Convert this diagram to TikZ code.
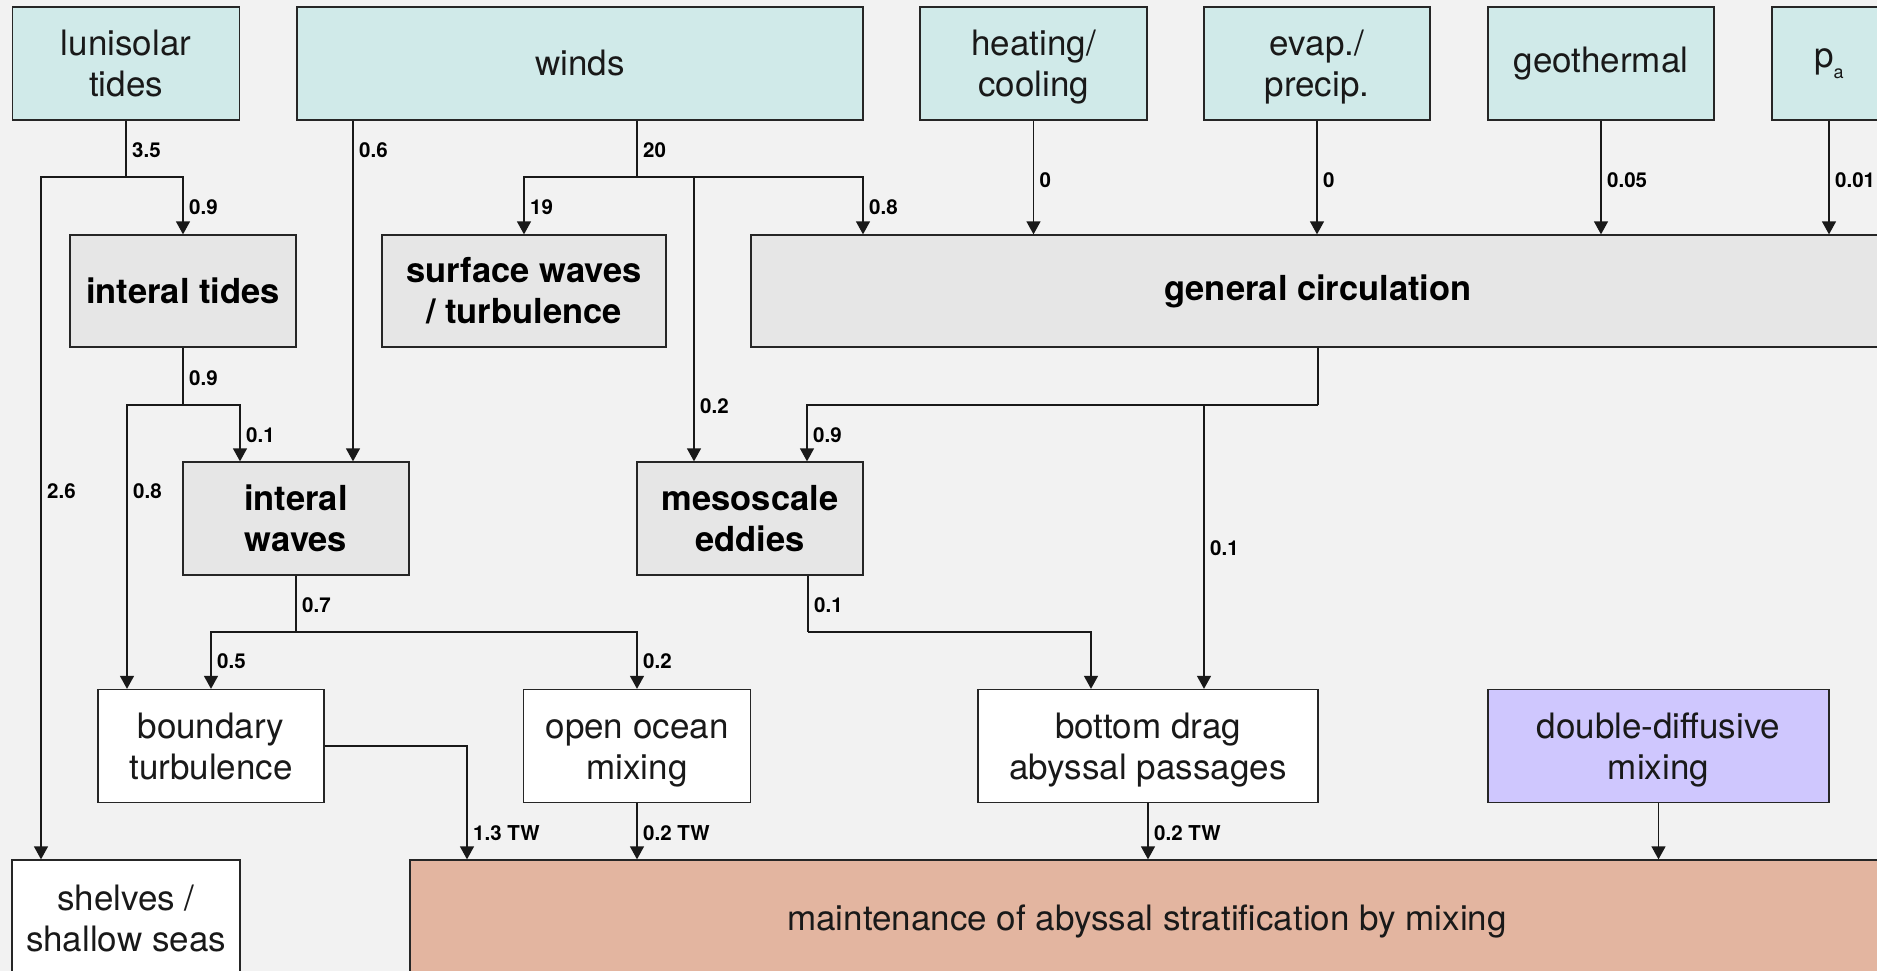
\documentclass[tikz,border=0pt]{standalone}
\usepackage{fontspec}
\setmainfont{TeX Gyre Heros}
\usetikzlibrary{arrows.meta}
\definecolor{bgc}{HTML}{F2F2F2}
\definecolor{srcc}{HTML}{D0EAE9}
\definecolor{procc}{HTML}{E6E6E6}
\definecolor{ddc}{HTML}{CFC7FE}
\definecolor{mainc}{HTML}{E3B5A0}
\begin{document}
\begin{tikzpicture}[x=1pt,y=-1pt,
  box/.style={draw=black!85, line width=1.3pt, inner sep=0pt, align=center,
    font=\fontsize{35}{41}\selectfont, text=black!90},
  src/.style={box, fill=srcc},
  proc/.style={box, fill=procc, font=\fontsize{34.5}{41}\selectfont\bfseries, text=black},
  sink/.style={box, fill=white},
  lab/.style={anchor=west, font=\fontsize{20.5}{20.5}\selectfont\bfseries, inner sep=0pt, xshift=6pt},
  arr/.style={-{Triangle[width=14pt,length=13pt]}, line width=1.3pt, draw=black!90},
  ln/.style={line width=1.3pt, draw=black!90}]
\useasboundingbox (0,0) rectangle (1877,971);
\fill[bgc] (0,0) rectangle (1877,971);
\clip (0,0) rectangle (1877,971);

% sources
\node[src, minimum width=227pt, minimum height=113pt] (luni) at (126,63.5) {lunisolar\\tides};
\node[src, minimum width=566pt, minimum height=113pt] (winds) at (580,63.5) {winds};
\node[src, minimum width=227pt, minimum height=113pt] (heat) at (1033.5,63.5) {heating/\\\smash{cooling}};
\node[src, minimum width=226pt, minimum height=113pt] (evap) at (1317,63.5) {evap./\\\smash{precip.}};
\node[src, minimum width=226pt, minimum height=113pt] (geo) at (1601,63.5) {geothermal};
\node[src, minimum width=114pt, minimum height=113pt] (pa) at (1829,63.5) {p\raisebox{-0.3em}{\fontsize{18}{18}\selectfont a}};

% processes
\node[proc, minimum width=226pt, minimum height=112pt] (itides) at (183,291) {interal tides};
\node[proc, minimum width=284pt, minimum height=112pt] (surf) at (524,291) {surface waves\\/ turbulence};
\node[proc, minimum width=1134pt, minimum height=112pt] (gc) at (1318,291) {general circulation};
\node[proc, minimum width=226pt, minimum height=113pt] (iwaves) at (296,518.5) {interal\\waves};
\node[proc, minimum width=226pt, minimum height=113pt] (meso) at (750,518.5) {mesoscale\\eddies};

% sinks
\node[sink, minimum width=226pt, minimum height=113pt] (bturb) at (211,746) {boundary\\turbulence};
\node[sink, minimum width=227pt, minimum height=113pt] (open) at (637,746) {\rule{0pt}{25pt}open ocean\\\smash{mixing}};
\node[sink, minimum width=340pt, minimum height=113pt] (bdrag) at (1148,746) {bottom drag\\\smash{abyssal passages}};
\node[box, fill=ddc, minimum width=341pt, minimum height=113pt] (ddiff) at (1658.5,746) {double-diffusive\\\smash{mixing}};
\node[sink, minimum width=228pt, minimum height=116pt] (shelves) at (126,918) {shelves /\\shallow seas};
\node[box, fill=mainc, minimum width=1474pt, minimum height=122pt] (maint) at (1147,921) {maintenance of abyssal stratification by mixing};

% lunisolar tides
\coordinate (lj) at (126,177);
\draw[ln] (luni.south) -- (lj);
\draw[arr] (lj) -| ([xshift=-85pt]shelves.north);
\draw[arr] (lj) -| (itides.north);
\node[lab] at (126,150) {3.5};
\node[lab] at (183,207) {0.9};
\node[lab] at (41,491) {2.6};

% winds
\draw[arr] ([xshift=-227pt]winds.south) -- ([xshift=57pt]iwaves.north);
\node[lab] at (353,150) {0.6};
\coordinate (wj) at (637,177);
\coordinate (wm) at (694,177);
\draw[ln] ([xshift=57pt]winds.south) -- (wj);
\draw[arr] (wj) -| (surf.north);
\draw[arr] (wj) -| ([xshift=-455pt]gc.north);
\draw[arr] (wm) -- (wm |- meso.north);
\node[lab] at (637,150) {20};
\node[lab] at (524,207) {19};
\node[lab] at (863,207) {0.8};
\node[lab] at (694,406) {0.2};

% other forcings
\draw[arr] (heat.south) -- (heat.south |- gc.north);
\draw[arr] (evap.south) -- (evap.south |- gc.north);
\draw[arr] (geo.south) -- (geo.south |- gc.north);
\draw[arr] (pa.south) -- (pa.south |- gc.north);
\node[lab] at (1033.5,180) {0};
\node[lab] at (1317,180) {0};
\node[lab] at (1601,180) {0.05};
\node[lab] at (1829,180) {0.01};

% general circulation
\coordinate (gj) at (1318,405);
\coordinate (gk) at (1204,405);
\draw[ln] (gc.south) -- (gj);
\draw[arr] (gj) -| ([xshift=57pt]meso.north);
\draw[arr] (gk) -- (gk |- bdrag.north);
\node[lab] at (807,435) {0.9};
\node[lab] at (1204,548) {0.1};

% internal tides
\coordinate (tj) at (183,405);
\draw[ln] (itides.south) -- (tj);
\draw[arr] (tj) -| ([xshift=-84pt]bturb.north);
\draw[arr] (tj) -| ([xshift=-56pt]iwaves.north);
\node[lab] at (183,378) {0.9};
\node[lab] at (127,491) {0.8};
\node[lab] at (240,435) {0.1};

% internal waves
\coordinate (vj) at (296,632);
\draw[ln] (iwaves.south) -- (vj);
\draw[arr] (vj) -| (bturb.north);
\draw[arr] (vj) -| (open.north);
\node[lab] at (296,605) {0.7};
\node[lab] at (211,661) {0.5};
\node[lab] at (637,661) {0.2};

% mesoscale eddies
\coordinate (mj) at (808,632);
\draw[ln] ([xshift=58pt]meso.south) -- (mj);
\draw[arr] (mj) -| ([xshift=-57pt]bdrag.north);
\node[lab] at (808,605) {0.1};

% into maintenance
\draw[arr] (bturb.east) -| ([xshift=-680pt]maint.north);
\draw[arr] (open.south) -- (open.south |- maint.north);
\draw[arr] (bdrag.south) -- (bdrag.south |- maint.north);
\draw[arr] (ddiff.south) -- (ddiff.south |- maint.north);
\node[lab] at (467,833) {1.3 TW};
\node[lab] at (637,833) {0.2 TW};
\node[lab] at (1148,833) {0.2 TW};
\end{tikzpicture}
\end{document}
